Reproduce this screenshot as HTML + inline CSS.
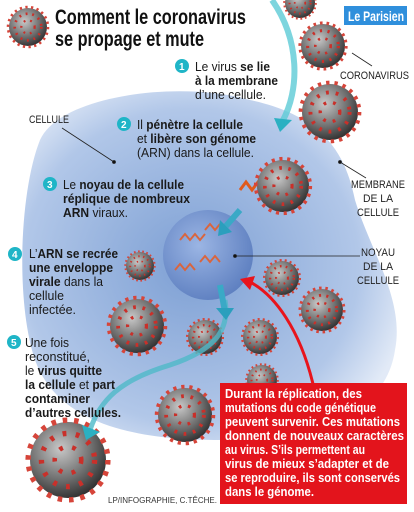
<!DOCTYPE html>
<html><head><meta charset="utf-8">
<style>
html,body{margin:0;padding:0;background:#fff;}
svg{display:block;font-family:"Liberation Sans",sans-serif;}
.t{font-size:12.5px;fill:#1a1a1a;}
.b{font-weight:bold;}
.lab{font-size:11px;fill:#222;}
.w{font-size:12.5px;fill:#fff;font-weight:bold;}
</style></head>
<body>
<svg width="414" height="512" viewBox="0 0 414 512">
<defs>
<radialGradient id="cellg" cx="0.45" cy="0.5" r="0.6">
<stop offset="0" stop-color="#6f95cf"/><stop offset="0.75" stop-color="#a9c1e6"/><stop offset="1" stop-color="#dfe8f6"/>
</radialGradient>
<radialGradient id="vg" cx="0.4" cy="0.35" r="0.7">
<stop offset="0" stop-color="#c8c8c8"/><stop offset="0.6" stop-color="#6d6d6d"/><stop offset="1" stop-color="#2b2b2b"/>
</radialGradient>
<radialGradient id="ng" cx="0.4" cy="0.4" r="0.7">
<stop offset="0" stop-color="#9fb8e6"/><stop offset="1" stop-color="#4f72b8"/>
</radialGradient>
<g id="vir">
<circle r="1" fill="url(#vg)"/>
<circle r="1.05" fill="none" stroke="#d6453a" stroke-width="0.14" stroke-dasharray="0.12 0.18"/>
<circle r="0.7" fill="none" stroke="#c9302a" stroke-width="0.14" stroke-dasharray="0.1 0.25"/>
<circle r="0.35" fill="none" stroke="#c9302a" stroke-width="0.12" stroke-dasharray="0.1 0.25"/>
</g>
</defs>
<path d="M40 140 C60 95 180 80 250 100 C320 115 345 150 355 200 C370 250 405 300 395 350 C385 420 300 445 220 440 C150 440 60 430 35 360 C15 300 20 190 40 140Z" fill="url(#cellg)" opacity="0.9"/>
<circle cx="208" cy="255" r="45" fill="url(#ng)" opacity="0.85"/>
<g fill="none" stroke="#d9653e" stroke-width="2">
<path d="M180 240 l5 -6 l5 6 l5 -6 l5 6 l5 -6"/><path d="M200 262 l5 -6 l5 6 l5 -6 l5 6"/><path d="M175 270 l5 -6 l5 6 l5 -6 l5 6"/><path d="M205 230 l5 -6 l5 6 l5 -6"/>
<path d="M240 190 l6 -8 l6 8 l6 -8 l6 8 l6 -8" stroke="#e05a1c" stroke-width="3"/>
</g>
<g><use href="#vir" transform="translate(28,27) scale(19)"/></g>
<text class="b" x="55" y="24" style="font-size:21px" fill="#111" textLength="191" lengthAdjust="spacingAndGlyphs">Comment le coronavirus</text>
<text class="b" x="55" y="46" style="font-size:21px" fill="#111" textLength="149" lengthAdjust="spacingAndGlyphs">se propage et mute</text>
<g><rect x="344" y="6" width="63" height="19" fill="#2f8fdc"/><text x="348" y="21" fill="#fff" font-size="14" font-weight="bold" textLength="56" lengthAdjust="spacingAndGlyphs">Le Parisien</text></g>
<path d="M272 0 C300 40 300 90 282 122" fill="none" stroke="#5ccbd6" stroke-width="6" opacity="0.8"/>
<polygon points="274,118 292,120 280,132" fill="#2bb0c2"/>
<g>
<use href="#vir" transform="translate(300,3) scale(15)"/>
<use href="#vir" transform="translate(323,46) scale(22)"/>
<use href="#vir" transform="translate(330,112) scale(28)"/>
<use href="#vir" transform="translate(283,186) scale(26)"/>
<use href="#vir" transform="translate(140,266) scale(14)"/>
<use href="#vir" transform="translate(282,278) scale(17)"/>
<use href="#vir" transform="translate(322,310) scale(21)"/>
<use href="#vir" transform="translate(137,326) scale(27)"/>
<use href="#vir" transform="translate(205,337) scale(17)"/>
<use href="#vir" transform="translate(260,337) scale(17)"/>
<use href="#vir" transform="translate(262,380) scale(15)"/>
<use href="#vir" transform="translate(185,415) scale(27)"/>
<use href="#vir" transform="translate(68,460) scale(38)"/>
</g>
<path d="M225 300 C230 330 215 350 170 365 C120 380 100 400 90 430" fill="none" stroke="#4fb9c8" stroke-width="5" opacity="0.8"/>
<polygon points="82,425 100,432 86,440" fill="#2bb0c2"/>
<path d="M240 210 L226 226" stroke="#3aa9c6" stroke-width="6"/><polygon points="220,220 232,232 218,236" fill="#2b9fbd"/>
<path d="M220 285 L225 312" stroke="#3aa9c6" stroke-width="6"/><polygon points="216,308 234,308 226,320" fill="#2b9fbd"/>
<path d="M313 384 C300 330 275 295 250 282" fill="none" stroke="#e8141c" stroke-width="3"/>
<polygon points="240,279 255,276 250,290" fill="#e8141c"/>
<g><circle cx="182" cy="66" r="7" fill="#1fb5c7"/><text x="179" y="70" fill="#fff" font-size="10" font-weight="bold">1</text>
<text class="t" x="195" y="71" textLength="75" lengthAdjust="spacingAndGlyphs">Le virus <tspan class="b">se lie</tspan></text><text class="t b" x="195" y="85" textLength="83" lengthAdjust="spacingAndGlyphs">à la membrane</text><text class="t" x="195" y="99" textLength="71" lengthAdjust="spacingAndGlyphs">d’une cellule.</text></g>
<g><circle cx="124" cy="124" r="7" fill="#1fb5c7"/><text x="121" y="128" fill="#fff" font-size="10" font-weight="bold">2</text>
<text class="t" x="137" y="129" textLength="106" lengthAdjust="spacingAndGlyphs">Il <tspan class="b">pénètre la cellule</tspan></text><text class="t" x="137" y="143" textLength="119" lengthAdjust="spacingAndGlyphs">et <tspan class="b">libère son génome</tspan></text><text class="t" x="137" y="157" textLength="117" lengthAdjust="spacingAndGlyphs">(ARN) dans la cellule.</text></g>
<g><circle cx="50" cy="184" r="7" fill="#1fb5c7"/><text x="47" y="188" fill="#fff" font-size="10" font-weight="bold">3</text>
<text class="t" x="63" y="189" textLength="121" lengthAdjust="spacingAndGlyphs">Le <tspan class="b">noyau de la cellule</tspan></text><text class="t b" x="63" y="203" textLength="127" lengthAdjust="spacingAndGlyphs">réplique de nombreux</text><text class="t" x="63" y="217" textLength="65" lengthAdjust="spacingAndGlyphs"><tspan class="b">ARN</tspan> viraux.</text></g>
<g><circle cx="15" cy="254" r="7" fill="#1fb5c7"/><text x="12" y="258" fill="#fff" font-size="10" font-weight="bold">4</text>
<text class="t" x="29" y="258" textLength="89" lengthAdjust="spacingAndGlyphs">L’<tspan class="b">ARN se recrée</tspan></text><text class="t b" x="29" y="272" textLength="84" lengthAdjust="spacingAndGlyphs">une enveloppe</text><text class="t" x="29" y="286" textLength="74" lengthAdjust="spacingAndGlyphs"><tspan class="b">virale</tspan> dans la</text><text class="t" x="29" y="300" textLength="35" lengthAdjust="spacingAndGlyphs">cellule</text><text class="t" x="29" y="314" textLength="47" lengthAdjust="spacingAndGlyphs">infectée.</text></g>
<g><circle cx="14" cy="342" r="7" fill="#1fb5c7"/><text x="11" y="346" fill="#fff" font-size="10" font-weight="bold">5</text>
<text class="t" x="25" y="347" textLength="44" lengthAdjust="spacingAndGlyphs">Une fois</text><text class="t" x="25" y="361" textLength="65" lengthAdjust="spacingAndGlyphs">reconstitué,</text><text class="t" x="25" y="375" textLength="77" lengthAdjust="spacingAndGlyphs">le <tspan class="b">virus quitte</tspan></text><text class="t" x="25" y="389" textLength="90" lengthAdjust="spacingAndGlyphs"><tspan class="b">la cellule</tspan> et <tspan class="b">part</tspan></text><text class="t b" x="25" y="403" textLength="65" lengthAdjust="spacingAndGlyphs">contaminer</text><text class="t b" x="25" y="417" textLength="96" lengthAdjust="spacingAndGlyphs">d’autres cellules.</text></g>
<g>
<text class="lab" x="340" y="79" textLength="69" lengthAdjust="spacingAndGlyphs">CORONAVIRUS</text>
<text class="lab" x="29" y="123" textLength="40" lengthAdjust="spacingAndGlyphs">CELLULE</text>
<text class="lab" x="378" y="188" text-anchor="middle" textLength="54" lengthAdjust="spacingAndGlyphs">MEMBRANE</text><text class="lab" x="378" y="202" text-anchor="middle" textLength="30" lengthAdjust="spacingAndGlyphs">DE LA</text><text class="lab" x="378" y="216" text-anchor="middle" textLength="42" lengthAdjust="spacingAndGlyphs">CELLULE</text>
<text class="lab" x="378" y="256" text-anchor="middle" textLength="34" lengthAdjust="spacingAndGlyphs">NOYAU</text><text class="lab" x="378" y="270" text-anchor="middle" textLength="30" lengthAdjust="spacingAndGlyphs">DE LA</text><text class="lab" x="378" y="284" text-anchor="middle" textLength="42" lengthAdjust="spacingAndGlyphs">CELLULE</text>
</g>
<g stroke="#222" stroke-width="0.8" fill="#111">
<line x1="352" y1="53" x2="372" y2="66"/><line x1="62" y1="128" x2="114" y2="162"/><circle cx="114" cy="162" r="1.5"/>
<line x1="340" y1="162" x2="366" y2="178"/><circle cx="340" cy="162" r="1.5"/>
<line x1="235" y1="256" x2="360" y2="256"/><circle cx="235" cy="256" r="1.5"/>
</g>
<g>
<rect x="220" y="383" width="187" height="121" fill="#e3141c"/>
<text class="w" x="225" y="398" textLength="137" lengthAdjust="spacingAndGlyphs">Durant la réplication, des</text>
<text class="w" x="225" y="412" textLength="151" lengthAdjust="spacingAndGlyphs">mutations du code génétique</text>
<text class="w" x="225" y="426" textLength="175" lengthAdjust="spacingAndGlyphs">peuvent survenir. Ces mutations</text>
<text class="w" x="225" y="440" textLength="179" lengthAdjust="spacingAndGlyphs">donnent de nouveaux caractères</text>
<text class="w" x="225" y="454" textLength="140" lengthAdjust="spacingAndGlyphs">au virus. S’ils permettent au</text>
<text class="w" x="225" y="468" textLength="164" lengthAdjust="spacingAndGlyphs">virus de mieux s’adapter et de</text>
<text class="w" x="225" y="482" textLength="175" lengthAdjust="spacingAndGlyphs">se reproduire, ils sont conservés</text>
<text class="w" x="225" y="496" textLength="89" lengthAdjust="spacingAndGlyphs">dans le génome.</text>
</g>
<text x="108" y="503" font-size="8.5" fill="#333" textLength="109" lengthAdjust="spacingAndGlyphs">LP/INFOGRAPHIE, C.TÊCHE.</text>
</svg>
</body></html>
